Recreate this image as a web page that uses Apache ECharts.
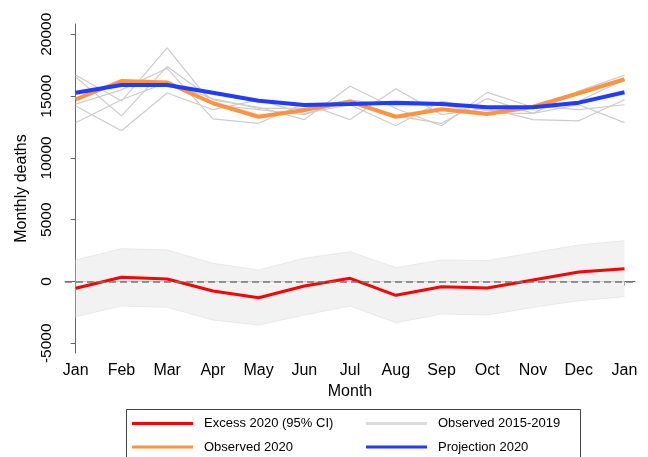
<!DOCTYPE html>
<html>
<head>
<meta charset="utf-8">
<script src="https://cdn.jsdelivr.net/npm/echarts@6/dist/echarts.min.js"></script>
<style>
  html, body { margin: 0; padding: 0; background: #fff; }
  #chart { width: 648px; height: 457px; }
</style>
</head>
<body>
<div id="chart"></div>
<script>
const months = ['Jan', 'Feb', 'Mar', 'Apr', 'May', 'Jun', 'Jul', 'Aug', 'Sep', 'Oct', 'Nov', 'Dec', 'Jan']
const yTicks = [-5000, 0, 5000, 10000, 15000, 20000]

const excess2020 = [-550, 340, 200, -770, -1310, -360, 260, -1120, -420, -530, 120, 770, 1040]
const ciLow = [-2850, -1980, -2090, -3110, -3520, -2710, -1980, -3330, -2630, -2710, -2090, -1550, -1230]
const ciHigh = [1740, 2650, 2550, 1470, 930, 1880, 2410, 1120, 1740, 1690, 2330, 2950, 3300]

const observed2020 = [14740, 16220, 16090, 14420, 13330, 13870, 14550, 13330, 13930, 13550, 14140, 15230, 16360]
const projection2020 = [15275, 15900, 15900, 15275, 14630, 14280, 14360, 14470, 14360, 14090, 14090, 14470, 15310]

const obs2015 = [16700, 14600, 18900, 14300, 13900, 13500, 14700, 13400, 12800, 14800, 13600, 15400, 16700]
const obs2016 = [16550, 13400, 17400, 14700, 14100, 13100, 15800, 14000, 12600, 15300, 14100, 14600, 16300]
const obs2017 = [14350, 15500, 17250, 13150, 12800, 14400, 13100, 15600, 13500, 14000, 13100, 13000, 14700]
const obs2018 = [14200, 12200, 15250, 13900, 14700, 13600, 14300, 12600, 14600, 13800, 14200, 13900, 14300]
const obs2019 = [12850, 14700, 16100, 14800, 14000, 14000, 14700, 14200, 14300, 13600, 13600, 14300, 12850]

const pairs = arr => arr.map((v, i) => [i, v])
const font = 'Liberation Sans, Arial, sans-serif'

const grayLine = (data) => ({
  name: 'Observed 2015-2019',
  type: 'line',
  symbol: 'none',
  lineStyle: { width: 1.2, color: '#cccccc' },
  itemStyle: { color: '#dcdcdc' },
  z: 1,
  data: pairs(data)
})

// CI band: upper bound is always > 0 and lower bound always < 0, so two areas to 0 make the band
const ciEdge = (data) => ({
  name: 'ci',
  type: 'line',
  symbol: 'none',
  lineStyle: { width: 1, color: '#e8e8e8' },
  areaStyle: { color: '#f2f2f2', opacity: 1, origin: 0 },
  z: 1,
  data: pairs(data)
})

const chart = echarts.init(document.getElementById('chart'), null, { renderer: 'canvas' })

const legendBase = {
  orient: 'vertical',
  top: 417,
  padding: 0,
  icon: 'rect',
  itemWidth: 61,
  itemHeight: 3,
  itemGap: 10.5,
  textStyle: { fontSize: 13, color: '#000', padding: [0, 0, 0, 6] }
}

chart.setOption({
  animation: false,
  textStyle: { fontFamily: font, color: '#000' },
  grid: { left: 65, right: 13, top: 24, bottom: 104 },
  xAxis: {
    type: 'value',
    min: -0.234,
    max: 12.23,
    name: 'Month',
    nameLocation: 'middle',
    nameGap: 27,
    nameTextStyle: { fontSize: 16, color: '#000', fontFamily: font },
    axisLine: { lineStyle: { color: '#666', width: 1 } },
    axisTick: { length: 4, lineStyle: { color: '#666' }, customValues: months.map((m, i) => i) },
    axisLabel: {
      fontSize: 16,
      color: '#000',
      margin: 10,
      customValues: months.map((m, i) => i),
      formatter: (v) => months[Math.round(v)]
    },
    splitLine: { show: false }
  },
  yAxis: {
    type: 'value',
    min: -5785,
    max: 20833,
    name: 'Monthly deaths',
    nameLocation: 'middle',
    nameGap: 35,
    nameTextStyle: { fontSize: 16, color: '#000', fontFamily: font },
    axisLine: { show: true, lineStyle: { color: '#666', width: 1 } },
    axisTick: { show: true, length: 5, lineStyle: { color: '#666' }, customValues: yTicks },
    axisLabel: {
      fontSize: 15.5,
      color: '#000',
      rotate: 90,
      margin: 10,
      customValues: yTicks,
      formatter: (v) => String(v)
    },
    splitLine: { show: false }
  },
  legend: [
    { ...legendBase, left: 132, data: ['Excess 2020 (95% CI)', 'Observed 2020'] },
    { ...legendBase, left: 366, data: ['Observed 2015-2019', 'Projection 2020'] }
  ],
  graphic: [
    {
      type: 'rect',
      left: 124,
      top: 407,
      shape: { width: 454, height: 70 },
      style: { fill: 'none', stroke: '#444', lineWidth: 1 },
      silent: true
    }
  ],
  series: [
    ciEdge(ciHigh),
    {
      ...ciEdge(ciLow),
      markLine: {
        silent: true,
        symbol: 'none',
        label: { show: false },
        lineStyle: { type: [7, 4], color: '#777', width: 1.5 },
        data: [{ yAxis: 0 }]
      }
    },
    grayLine(obs2015),
    grayLine(obs2016),
    grayLine(obs2017),
    grayLine(obs2018),
    grayLine(obs2019),
    {
      name: 'Excess 2020 (95% CI)',
      type: 'line',
      symbol: 'none',
      lineStyle: { width: 3, color: '#ff0000' },
      itemStyle: { color: '#ff0000' },
      z: 4,
      data: pairs(excess2020)
    },
    {
      name: 'Observed 2020',
      type: 'line',
      symbol: 'none',
      lineStyle: { width: 4, color: '#ff9340' },
      itemStyle: { color: '#ff9340' },
      z: 5,
      data: pairs(observed2020)
    },
    {
      name: 'Projection 2020',
      type: 'line',
      symbol: 'none',
      lineStyle: { width: 4, color: '#1f3cff' },
      itemStyle: { color: '#1f3cff' },
      z: 6,
      data: pairs(projection2020)
    }
  ]
})
</script>
</body>
</html>
